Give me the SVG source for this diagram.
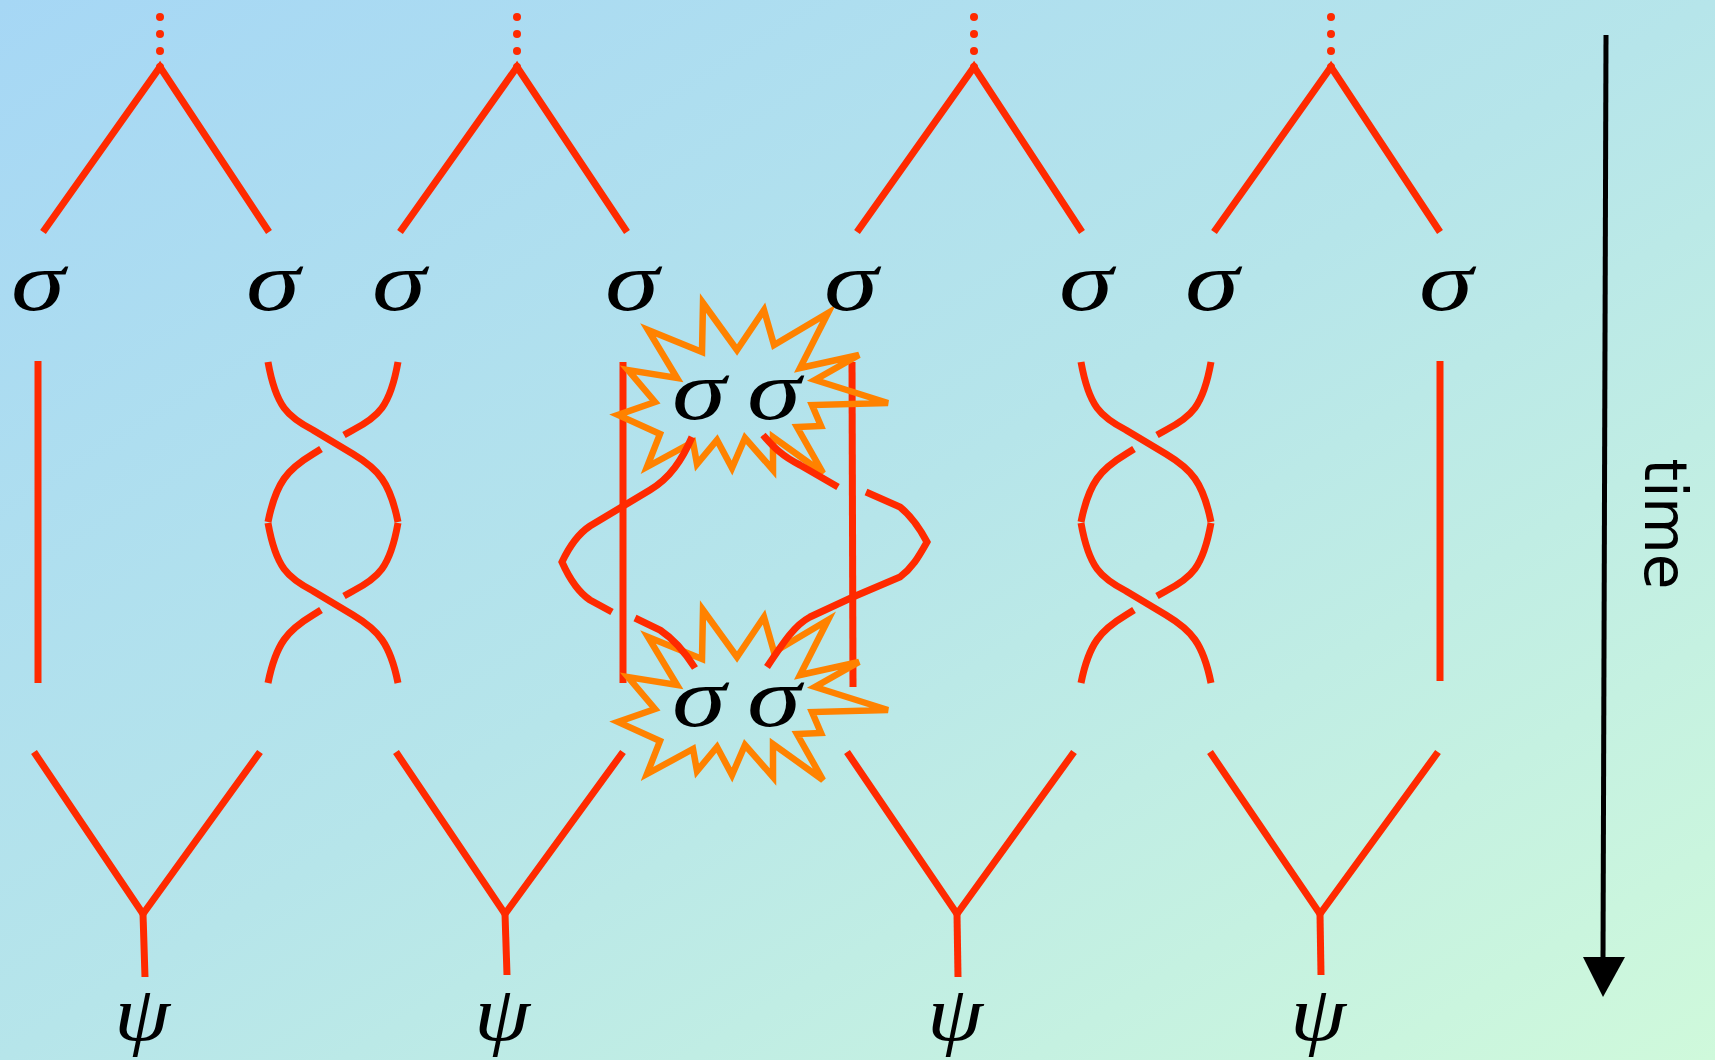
<svg xmlns="http://www.w3.org/2000/svg" xmlns:xlink="http://www.w3.org/1999/xlink" width="1715" height="1060" viewBox="0 0 1715 1060">
<style>
.r{fill:none;stroke:#ff2a00;stroke-width:7;stroke-linejoin:miter}
.d{fill:#ff2a00}
.star{fill:none;stroke:#ff8200;stroke-width:6.5;stroke-linejoin:miter}
.sg{font-family:"Liberation Serif","Times New Roman",serif;font-style:italic;font-size:84px;fill:#000;text-anchor:middle}
.ps{font-family:"Liberation Serif","Times New Roman",serif;font-style:italic;font-size:78px;fill:#000;text-anchor:middle}
.tm{font-family:"DejaVu Sans",sans-serif;font-size:58px;fill:#000;text-anchor:middle}
</style>
<defs>
<linearGradient id="bg" x1="0" y1="0" x2="1" y2="1">
<stop offset="0" stop-color="#a6d7f5"/>
<stop offset="0.5" stop-color="#b6e5ea"/>
<stop offset="1" stop-color="#cff9db"/>
</linearGradient>
<g id="braidhalf">
<path class="r" d="M0,0 C8,45 20,55 45,68 L85,92 C110,107 122,120 130,160"/>
<path class="r" d="M130,0 C122,45 110,55 85,68 L76,73"/>
<path class="r" d="M53,87 L45,92 C20,107 8,120 0,160"/>
</g>
<g id="dots">
<circle class="d" cx="0" cy="17" r="4"/>
<circle class="d" cx="0" cy="34" r="4"/>
<circle class="d" cx="0" cy="51" r="4"/>
<circle class="d" cx="0" cy="67" r="4"/>
</g>
<polygon id="starshape" class="star" points="703,303 737,350 764,310 774,345 828,313 800,368 859,355 815,380 888,403 812,405 821,426 797,427 823,473 773,437 773,470 745,438 732,468 717,440 697,464 693,442 647,467 660,434 618,415 655,402 628,370 677,378 648,330 702,352"/>
</defs>
<rect x="0" y="0" width="1715" height="1060" fill="url(#bg)"/>

<g id="connectors">
<g id="fork-top-1"><use xlink:href="#dots" x="160"/><polyline class="r" points="43,232 160,67 269,232"/></g>
<g id="fork-top-2"><use xlink:href="#dots" x="517"/><polyline class="r" points="400,232 517,67 627,232"/></g>
<g id="fork-top-3"><use xlink:href="#dots" x="974"/><polyline class="r" points="857,232 974,67 1082,232"/></g>
<g id="fork-top-4"><use xlink:href="#dots" x="1331"/><polyline class="r" points="1214,232 1331,67 1440,232"/></g>

<line class="r" x1="38" y1="361" x2="38" y2="683"/>
<line class="r" x1="1440" y1="361" x2="1440" y2="681"/>
<g id="braid-1">
<use xlink:href="#braidhalf" transform="translate(268,362)"/>
<use xlink:href="#braidhalf" transform="translate(268,523)"/>
</g>
<g id="braid-2">
<use xlink:href="#braidhalf" transform="translate(1081,362)"/>
<use xlink:href="#braidhalf" transform="translate(1081,523)"/>
</g>
<line class="r" x1="623" y1="362" x2="623" y2="683"/>
<line class="r" x1="852" y1="362" x2="853" y2="687"/>

<g id="fork-bot-1"><polyline class="r" points="34,752 143,914 260,752"/><line class="r" x1="143" y1="914" x2="145" y2="977"/></g>
<g id="fork-bot-2"><polyline class="r" points="396,752 505,914 623,752"/><line class="r" x1="505" y1="914" x2="507" y2="975"/></g>
<g id="fork-bot-3"><polyline class="r" points="847,752 957,914 1074,752"/><line class="r" x1="957" y1="914" x2="958" y2="977"/></g>
<g id="fork-bot-4"><polyline class="r" points="1210,752 1320,914 1438,752"/><line class="r" x1="1320" y1="914" x2="1321" y2="975"/></g>
</g>

<g id="star-top"><use xlink:href="#starshape"/></g>
<g id="star-bottom"><use xlink:href="#starshape" transform="translate(0,307)"/></g>

<g id="twist">
<path class="r" d="M692,437 C682,460 670,478 650,490 L590,526 C578,534 570,545 562,562 C570,580 578,592 590,600 L612,612"/>
<path class="r" d="M635,618 L660,630 C675,640 685,652 695,668"/>
<path class="r" d="M763,435 C772,445 780,455 800,465 L838,487"/>
<path class="r" d="M866,492 L900,507 C910,515 918,525 927,542 C918,558 912,568 900,577 L853,597 L810,617 C795,625 785,640 767,667"/>
</g>

<g id="labels-sigma">
<text class="sg" transform="translate(38,310) scale(1.3,1)">σ</text>
<text class="sg" transform="translate(273,310) scale(1.3,1)">σ</text>
<text class="sg" transform="translate(399,310) scale(1.3,1)">σ</text>
<text class="sg" transform="translate(632,310) scale(1.3,1)">σ</text>
<text class="sg" transform="translate(851,310) scale(1.3,1)">σ</text>
<text class="sg" transform="translate(1086,310) scale(1.3,1)">σ</text>
<text class="sg" transform="translate(1212,310) scale(1.3,1)">σ</text>
<text class="sg" transform="translate(1446,310) scale(1.3,1)">σ</text>
</g>
<g id="labels-star">
<text class="sg" transform="translate(699,419) scale(1.3,1)">σ</text>
<text class="sg" transform="translate(774,419) scale(1.3,1)">σ</text>
<text class="sg" transform="translate(699,726) scale(1.3,1)">σ</text>
<text class="sg" transform="translate(774,726) scale(1.3,1)">σ</text>
</g>
<g id="labels-psi">
<text class="ps" transform="translate(142,1040) scale(1.15,1)">ψ</text>
<text class="ps" transform="translate(502,1040) scale(1.15,1)">ψ</text>
<text class="ps" transform="translate(955,1040) scale(1.15,1)">ψ</text>
<text class="ps" transform="translate(1318,1040) scale(1.15,1)">ψ</text>
</g>

<g id="time-axis">
<line x1="1606" y1="35" x2="1603" y2="960" stroke="#000" stroke-width="5"/>
<polygon points="1583,957 1625,957 1603,997" fill="#000"/>
<text class="tm" transform="translate(1645,524) rotate(90)">time</text>
</g>
</svg>
